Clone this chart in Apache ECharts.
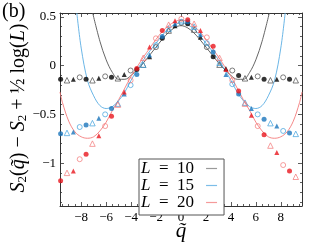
<!DOCTYPE html>
<html><head><meta charset="utf-8">
<script src="https://cdn.jsdelivr.net/npm/echarts@6/dist/echarts.min.js"></script>
<style>html,body{margin:0;padding:0;background:#fff}#c{width:324px;height:243px}</style>
</head><body><div id="c"></div>
<script>
// ---- data ----
const qVals = [-9.65,-9.14,-8.63,-8.12,-7.61,-7.10,-6.59,-6.08,-5.57,-5.06,-4.55,-4.04,-3.54,-3.03,-2.52,-2.01,-1.50,-0.99,-0.48,0.03,0.54,1.05,1.56,2.07,2.58,3.09,3.60,4.11,4.62,5.13,5.64,6.15,6.66,7.17,7.68,8.19,8.70,9.20];
const yL10 = [-0.14,-0.15,-0.14,-0.12,-0.14,-0.15,-0.13,-0.11,-0.12,-0.13,-0.09,-0.05,-0.04,0.01,0.09,0.19,0.28,0.36,0.41,0.44,0.43,0.37,0.29,0.19,0.09,0.01,-0.03,-0.05,-0.10,-0.13,-0.12,-0.11,-0.14,-0.15,-0.14,-0.12,-0.14,-0.15];
const yL15 = [-0.70,-0.69,-0.68,-0.63,-0.61,-0.59,-0.54,-0.50,-0.44,-0.39,-0.29,-0.20,-0.09,0.01,0.11,0.21,0.30,0.38,0.43,0.45,0.45,0.40,0.32,0.23,0.14,0.03,-0.09,-0.19,-0.29,-0.38,-0.44,-0.50,-0.55,-0.59,-0.62,-0.67,-0.69,-0.70];
const yL20 = [-1.18,-1.10,-1.08,-0.96,-0.91,-0.80,-0.72,-0.62,-0.52,-0.40,-0.27,-0.15,-0.03,0.08,0.19,0.28,0.36,0.42,0.46,0.48,0.47,0.43,0.36,0.29,0.20,0.08,-0.04,-0.15,-0.26,-0.39,-0.51,-0.62,-0.71,-0.82,-0.89,-1.02,-1.08,-1.14];

const curveQ10 = [-7.08,-6.5,-6,-5.5,-5,-4.5,-4,-3.5,-3,-2.5,-2,-1.5,-1,-0.5,0,0.5,1,1.5,2,2.5,3,3.5,4,4.5,5,5.5,6,6.5,7.08];
const curveY10 = [0.54,0.25,0.06,-0.07,-0.14,-0.14,-0.10,-0.04,0.03,0.11,0.19,0.27,0.34,0.39,0.41,0.39,0.34,0.27,0.19,0.11,0.03,-0.04,-0.10,-0.14,-0.14,-0.07,0.06,0.25,0.54];
const curveQ15 = [-8.35,-8,-7.5,-7,-6.5,-6,-5.5,-5,-4.5,-4,-3.5,-3,-2.5,-2,-1.5,-1,-0.5,0,0.5,1,1.5,2,2.5,3,3.5,4,4.5,5,5.5,6,6.5,7,7.5,8,8.35];
const curveY15 = [0.54,0.18,-0.15,-0.31,-0.41,-0.44,-0.42,-0.36,-0.27,-0.15,-0.04,0.06,0.15,0.23,0.31,0.38,0.42,0.44,0.42,0.38,0.31,0.23,0.15,0.06,-0.04,-0.15,-0.27,-0.36,-0.42,-0.44,-0.41,-0.31,-0.15,0.18,0.54];
const curveQ20 = [-9.7,-9.5,-9,-8.5,-8,-7.5,-7,-6.5,-6,-5.5,-5,-4.5,-4,-3.5,-3,-2.5,-2,-1.5,-1,-0.5,0,0.5,1,1.5,2,2.5,3,3.5,4,4.5,5,5.5,6,6.5,7,7.5,8,8.5,9,9.5,9.7];
const curveY20 = [-0.27,-0.38,-0.57,-0.68,-0.73,-0.745,-0.73,-0.67,-0.58,-0.46,-0.35,-0.23,-0.11,-0.01,0.09,0.18,0.27,0.35,0.41,0.45,0.47,0.45,0.41,0.35,0.27,0.18,0.09,-0.01,-0.11,-0.23,-0.35,-0.46,-0.58,-0.67,-0.73,-0.745,-0.73,-0.68,-0.57,-0.38,-0.27];

const legendNames = ['L = 10','L = 15','L = 20'];
const xTicks = [-8,-6,-4,-2,0,2,4,6,8];
const xMinorTicks = [-9.5,-9,-8.5,-7.5,-7,-6.5,-5.5,-5,-4.5,-3.5,-3,-2.5,-1.5,-1,-0.5,0.5,1,1.5,2.5,3,3.5,4.5,5,5.5,6.5,7,7.5,8.5,9,9.5];
const yTicks = [-1,-0.5,0,0.5];
const yMinorTicks = [-1.4,-1.3,-1.2,-1.1,-0.9,-0.8,-0.7,-0.6,-0.4,-0.3,-0.2,-0.1,0.1,0.2,0.3,0.4];

// ---- styles ----
const SERIF = "'Liberation Serif', 'DejaVu Serif', serif";
const AXC = '#333';
const styles = [
  {fill:'#000000', open:'#4a4a4a', line:'#555555', legend:'#9a9a9a'},
  {fill:'#1b75bb', open:'#3fa0dc', line:'#5aaee3', legend:'#7cbde8'},
  {fill:'#e8161e', open:'#f27878', line:'#f47b7b', legend:'#f59a9a'}
];
const markerKinds = [
  {symbol:'circle', filled:true, size:5},
  {symbol:'triangle', filled:false, size:5.5},
  {symbol:'triangle', filled:true, size:5},
  {symbol:'circle', filled:false, size:5}
];
const minus = v => String(v).replace('-', '\u2212');

function scatterData(ys, st) {
  return qVals.map((q, i) => {
    const m = markerKinds[i % 4];
    return {
      value: [q, ys[i]],
      symbol: m.symbol,
      symbolSize: m.size,
      itemStyle: m.filled
        ? {color: st.fill, borderWidth: 0}
        : {color: 'rgba(255,255,255,0)', borderColor: st.open, borderWidth: 0.9}
    };
  });
}
const zip = (a, b) => a.map((v, i) => [v, b[i]]);

const curves = [[curveQ10, curveY10],[curveQ15, curveY15],[curveQ20, curveY20]];
const pointSets = [yL10, yL15, yL20];

const series = [];
curves.forEach((c, i) => {
  series.push({
    name: legendNames[i], type: 'line', data: zip(c[0], c[1]),
    smooth: 0.35, symbol: 'none', clip: true,
    lineStyle: {color: styles[i].line, width: 0.9},
    itemStyle: {color: styles[i].legend},
    z: 2
  });
});
pointSets.forEach((ys, i) => {
  series.push({
    name: 'pts' + i, type: 'scatter', data: scatterData(ys, styles[i]), z: 3 + i
  });
});

function xAxisDef(pos, minor, labels) {
  return {
    type: 'value', min: -9.7, max: 9.7, position: pos,
    axisLine: {show: !minor, onZero: false, lineStyle: {color: AXC, width: 1}},
    axisTick: {show: true, inside: true, length: minor ? 2 : 4, customValues: minor ? xMinorTicks : xTicks,
               lineStyle: {color: AXC, width: 0.8}},
    axisLabel: labels ? {show: true, customValues: xTicks, formatter: minus, margin: 5,
               color: '#000', fontFamily: SERIF, fontSize: 13} : {show: false},
    splitLine: {show: false}
  };
}
function yAxisDef(pos, minor, labels) {
  return {
    type: 'value', min: -1.44, max: 0.54, position: pos,
    axisLine: {show: !minor, onZero: false, lineStyle: {color: AXC, width: 1}},
    axisTick: {show: true, inside: true, length: minor ? 2 : 4, customValues: minor ? yMinorTicks : yTicks,
               lineStyle: {color: AXC, width: 0.8}},
    axisLabel: labels ? {show: true, customValues: yTicks, formatter: minus, margin: 4,
               color: '#000', fontFamily: SERIF, fontSize: 13} : {show: false},
    splitLine: {show: false}
  };
}

const chart = echarts.init(document.getElementById('c'), null, {renderer: 'canvas'});
chart.setOption({
  animation: false,
  backgroundColor: '#fff',
  grid: {left: 60, right: 22, top: 13, bottom: 37, containLabel: false},
  xAxis: [xAxisDef('bottom', false, true), xAxisDef('top', false, false),
          xAxisDef('bottom', true, false), xAxisDef('top', true, false)],
  yAxis: [yAxisDef('left', false, true), yAxisDef('right', false, false),
          yAxisDef('left', true, false), yAxisDef('right', true, false)],
  legend: {
    data: legendNames, orient: 'vertical', left: 139, top: 159, align: 'right',
    icon: 'rect', itemWidth: 11, itemHeight: 1.2, itemGap: 0,
    borderColor: '#555', borderWidth: 1, borderRadius: 0, padding: [1, 7, 4, 2],
    backgroundColor: '#fff',
    formatter: n => n.replace('L', '{i|L}').replace(' = ', '  =  '),
    textStyle: {fontFamily: SERIF, fontSize: 17, color: '#000', lineHeight: 13, padding: [0, 7, 0, 0],
      rich: {i: {fontStyle: 'italic', fontFamily: SERIF, fontSize: 17, lineHeight: 13}}}
  },
  graphic: [
    {type: 'text', left: 2, top: 2, style: {text: '(b)', fontFamily: SERIF, fontSize: 20, fill: '#000'}},
    {type: 'text', x: 19, y: 108, rotation: Math.PI / 2,
     style: {text: '{i|S}{s|2}({i|q\u0303}) \u2212 {i|S}{s|2} + {f|\u00bd} log({i|L})',
       fontFamily: SERIF, fontSize: 20, fill: '#000', align: 'center', verticalAlign: 'middle',
       rich: {
         i: {fontStyle: 'italic', fontFamily: SERIF, fontSize: 20},
         s: {fontFamily: SERIF, fontSize: 13, verticalAlign: 'bottom'},
         f: {fontFamily: SERIF, fontSize: 20}
       }}},
    {type: 'text', x: 181, y: 231,
     style: {text: 'q\u0303', fontFamily: SERIF, fontStyle: 'italic', fontSize: 21, fill: '#000',
       align: 'center', verticalAlign: 'middle'}}
  ],
  series: series
});
</script></body></html>
